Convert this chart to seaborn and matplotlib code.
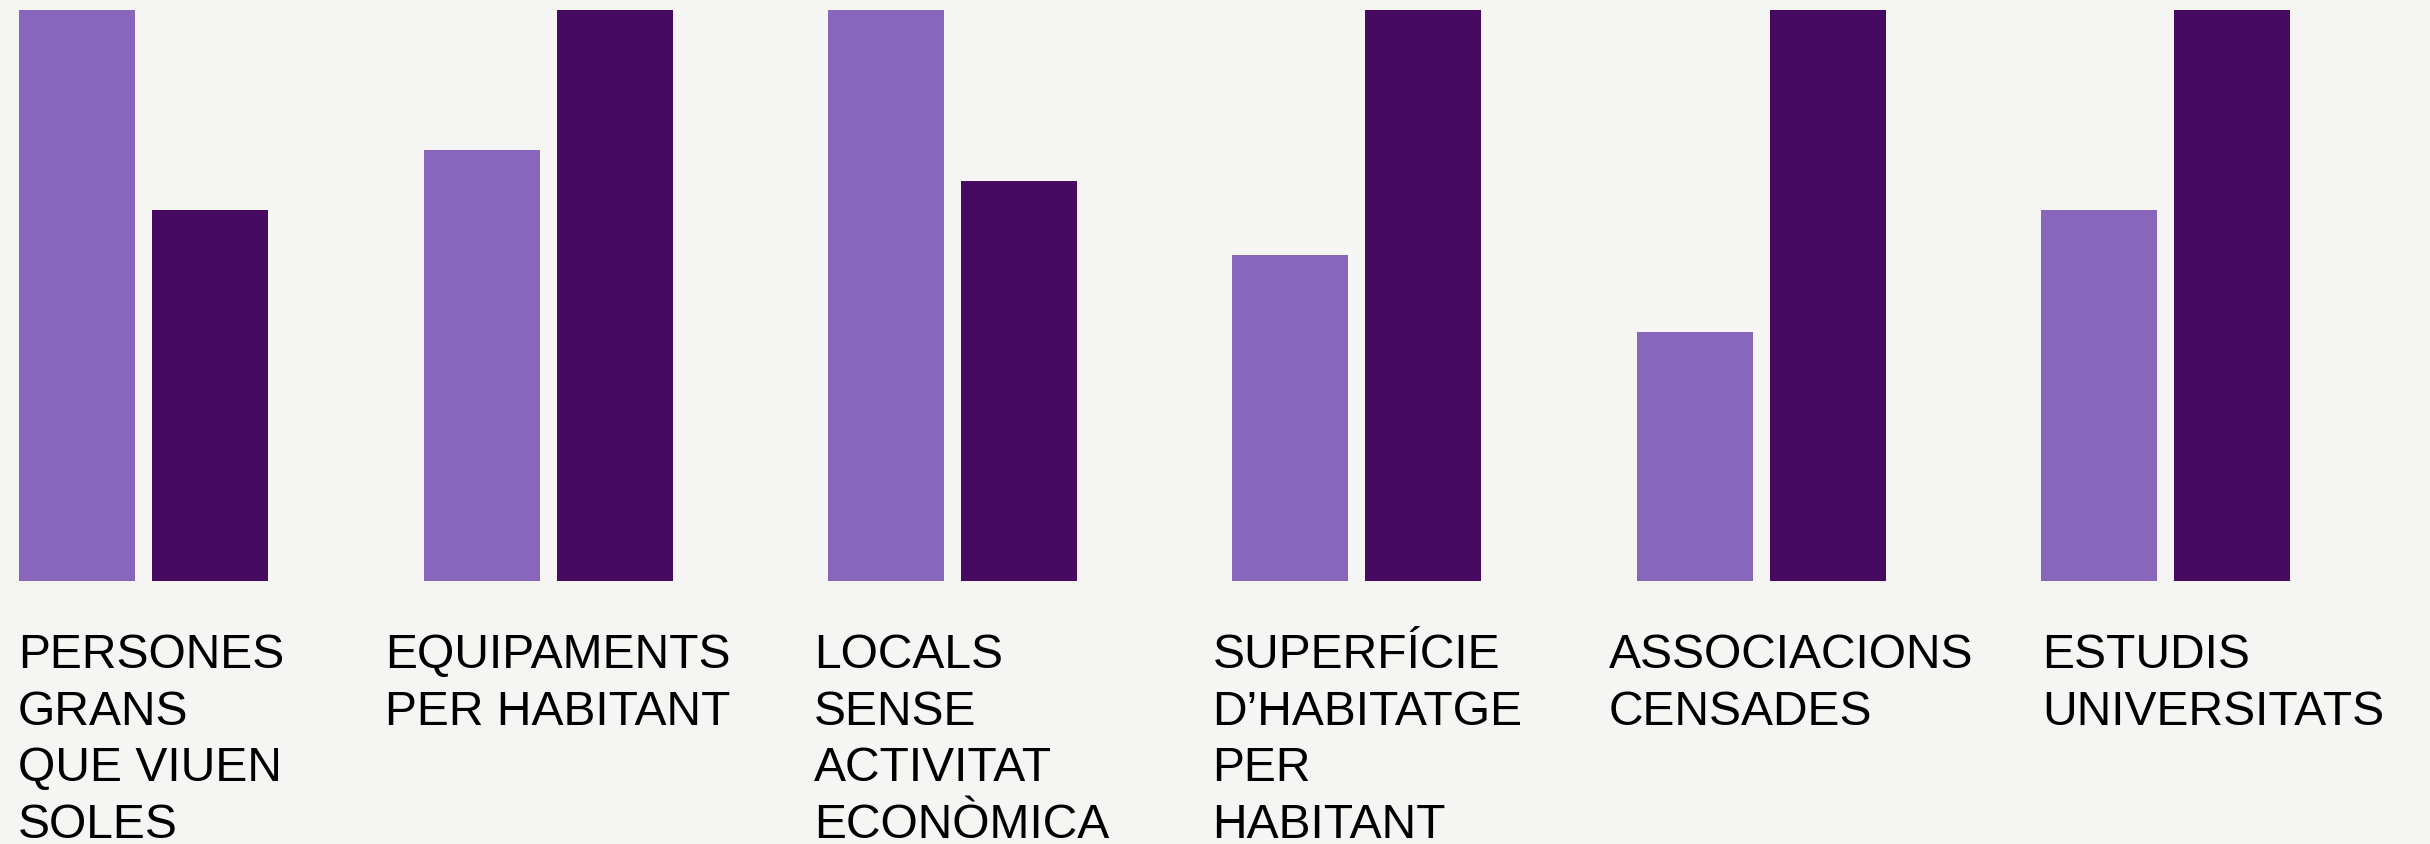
import pandas as pd
import matplotlib
matplotlib.use("Agg")
import matplotlib.pyplot as plt
import matplotlib.transforms as mtransforms
import seaborn as sns

indicadors = [
    "PERSONES\nGRANS\nQUE VIUEN\nSOLES",
    "EQUIPAMENTS\nPER HABITANT",
    "LOCALS\nSENSE\nACTIVITAT\nECONÒMICA",
    "SUPERFÍCIE\nD’HABITATGE\nPER\nHABITANT",
    "ASSOCIACIONS\nCENSADES",
    "ESTUDIS\nUNIVERSITATS",
]
series = ["sèrie 1", "sèrie 2"]
valors_1 = [100, 75.5, 100, 57, 43.6, 65]
valors_2 = [65, 100, 70, 100, 100, 100]

# colours and layout
bg = "#f5f5f3"
colors = ["#8866bb", "#460a62"]
label_shift_px = [-1.5, -39, -14, -20, -28, 1.5]

df = pd.DataFrame({
    "indicador": indicadors * 2,
    "serie": [series[0]] * len(indicadors) + [series[1]] * len(indicadors),
    "valor": valors_1 + valors_2,
})

sns.set_style("white")
plt.rcParams["font.family"] = ["Liberation Sans", "DejaVu Sans"]

fig = plt.figure(figsize=(24.3, 8.45), dpi=100, facecolor=bg)
ax = fig.add_axes([0, 0.3118, 1, 0.6754])
ax.set_facecolor(bg)

sns.barplot(data=df, x="indicador", y="valor", hue="serie", hue_order=series,
            palette=colors, saturation=1, width=0.658, gap=0.128,
            linewidth=0, edgecolor="none", legend=False, ax=ax)

ax.set_xlim(-0.356, 5.654)
ax.set_ylim(0, 100)
ax.axis("off")

# labels under each group, left aligned near the first bar
trans = mtransforms.blended_transform_factory(ax.transData, fig.transFigure)
light_bars = ax.patches[:len(indicadors)]
for i, (label, bar) in enumerate(zip(indicadors, light_bars)):
    shift = mtransforms.ScaledTranslation(label_shift_px[i] / fig.dpi, 0, fig.dpi_scale_trans)
    for j, line in enumerate(label.split("\n")):
        y = 1 - (668 + j * 56.6) / 845
        ax.text(bar.get_x(), y, line, transform=trans + shift,
                ha="left", va="baseline", fontsize=34.6, color="black",
                clip_on=False)

fig.savefig("out.png", dpi=100, facecolor=bg)
